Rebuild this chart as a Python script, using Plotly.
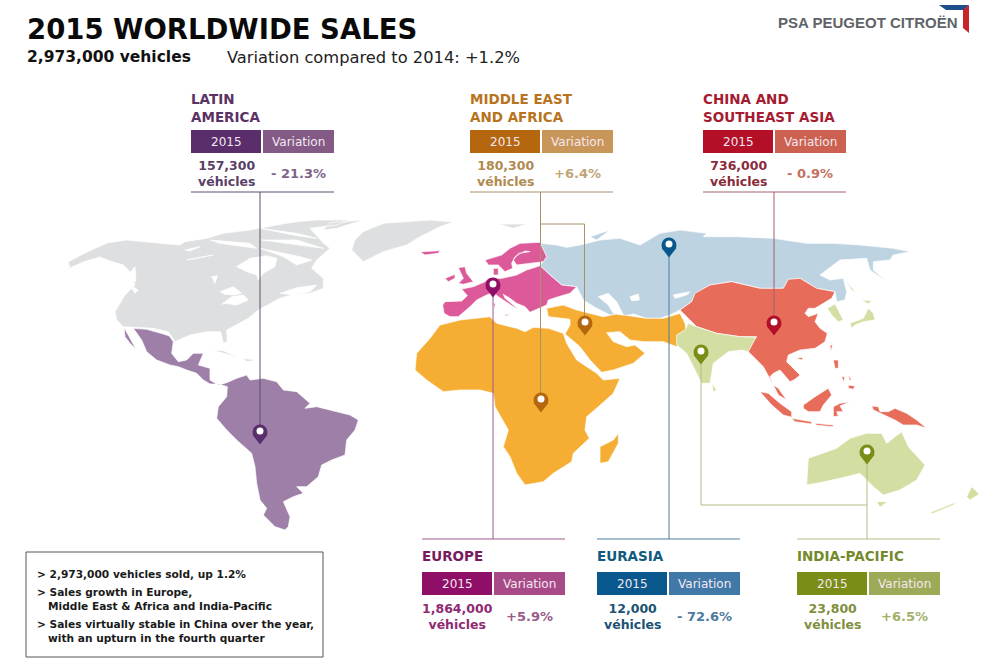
import plotly.graph_objects as go

# region table, top row then bottom row
regions = ["LATIN<br>AMERICA", "MIDDLE EAST<br>AND AFRICA", "CHINA AND<br>SOUTHEAST ASIA", "EUROPE", "EURASIA", "INDIA-PACIFIC"]
sales = ["157,300", "180,300", "736,000", "1,864,000", "12,000", "23,800"]
variation = ["- 21.3%", "+6.4%", "- 0.9%", "+5.9%", "- 72.6%", "+6.5%"]
table_left = [191, 470, 703, 422, 597, 797]
table_top = [130, 130, 130, 572, 572, 572]
rule_y = [192, 192, 192, 539, 539, 539]

dark = ["#5a2d6b", "#b4670e", "#b30f27", "#8f0e68", "#09588d", "#7a8d16"]
mid = ["#835a85", "#c9965a", "#cd6151", "#a94a88", "#4079a8", "#9dab58"]
title_col = ["#5b3264", "#b8731d", "#a51c30", "#7a1a5e", "#105a80", "#758a2c"]
sales_col = ["#5b3f68", "#b08a50", "#8a2a3a", "#8f2a72", "#1c5273", "#7f8f3e"]
var_col = ["#7d6488", "#c0a577", "#c4705f", "#9a5a8a", "#4d7a9c", "#a3b06c"]
line_col = ["#5e4f6a", "#a89268", "#a0626a", "#9c5a8c", "#4f7d9c", "#b4bc84"]
land_col = ["#9e7fa8", "#f5ae33", "#e86c5a", "#dc5a99", "#bdd3e2", "#d2dea2"]
grey_land = "#dddfe0"

# pins
pin_x = [260, 541, 585, 774, 493, 669, 701, 867]
pin_y = [432, 400, 323, 323, 285, 245, 352, 452]
pin_col = [dark[0], dark[1], dark[1], dark[2], dark[3], dark[4], dark[5], dark[5]]

# leader lines, one list per region
leaders = [
    ([[260, 192], [260, 432]],),
    ([[540.5, 192], [540.5, 400]], [[540.5, 224], [584.5, 224], [584.5, 323]]),
    ([[774, 192], [774, 323]],),
    ([[493, 285], [493, 539]],),
    ([[669, 245], [669, 539]],),
    ([[867, 452], [867, 539]], [[701, 352], [701, 505], [867, 505]]),
]

bullets = [
    "> 2,973,000 vehicles sold, up 1.2%",
    "> Sales growth in Europe,",
    "   Middle East & Africa and India-Pacific",
    "> Sales virtually stable in China over the year,",
    "   with an upturn in the fourth quarter",
]
bullet_y = [574, 592, 606, 624, 638]

A = (30, 210)
B = (400, 210)
C = (660, 220)
D = (430, 235)
E = (740, 280)
F = (110, 215)

grey_shapes = [
    (F, [(-144, 174), (-120, 156), (-126, 141), (-69, 111), (-9, 84), (50, 75), (120, 82), (210, 90), (225, 80),
         (290, 70), (340, 55), (420, 45), (500, 30), (560, 20), (620, 15), (720, 15), (680, 30), (600, 40), (640, 85),
         (660, 100), (620, 135), (605, 160), (640, 190), (640, 220), (600, 235), (545, 240), (510, 250), (470, 270),
         (445, 285), (415, 310), (375, 330), (350, 345), (352, 380), (340, 385), (332, 350), (290, 350), (240, 360),
         (195, 380), (175, 350), (130, 340), (40, 335), (20, 315), (15, 290), (45, 240), (75, 210), (65, 175),
         (40, 150), (0, 138), (-30, 126), (-81, 141), (-120, 159)]),
    (A, [(880, 60), (900, 38), (1000, 30), (920, 55)]),
    (A, [(965, 120), (975, 90), (1000, 65), (1060, 40), (1200, 30), (1270, 36), (1230, 50), (1170, 80), (1130, 105),
         (1060, 125), (1000, 155)]),
    (A, [(545, 420), (580, 422), (625, 442), (585, 432)]),
    (A, [(640, 445), (680, 450), (650, 455)]),
    (B, [(295, 42), (380, 42), (340, 55)]),
]

latin_shapes = [
    (A, [(282, 352), (300, 385), (318, 418), (300, 400), (285, 380)]),
    (A, [(310, 355), (350, 358), (400, 372), (418, 378), (430, 395), (425, 430), (445, 455), (470, 450), (490, 430),
         (520, 430), (505, 465), (540, 475), (540, 510), (565, 525), (590, 518), (620, 505), (650, 495), (660, 510),
         (700, 505), (740, 515), (760, 540), (800, 545), (840, 580), (825, 595), (860, 590), (900, 600), (960, 615),
         (985, 630), (975, 660), (950, 690), (945, 735), (905, 750), (875, 765), (865, 800), (830, 830), (800, 830),
         (820, 850), (790, 860), (760, 875), (780, 920), (775, 950), (765, 960), (735, 950), (700, 915), (710, 895),
         (690, 870), (680, 820), (675, 770), (665, 730), (620, 690), (590, 660), (560, 625), (565, 590), (590, 560),
         (592, 530), (565, 522), (540, 522), (520, 510), (500, 490), (470, 480), (445, 470), (420, 465), (380, 450),
         (350, 425), (335, 390)]),
]

mea_shapes = [
    (B, [(45, 480), (50, 430), (90, 385), (120, 345), (180, 330), (270, 320), (290, 340), (350, 355), (375, 365),
         (400, 352), (445, 355), (490, 370), (500, 400), (530, 450), (590, 490), (610, 510), (660, 505), (640, 550),
         (595, 590), (560, 620), (555, 660), (568, 685), (520, 730), (515, 755), (460, 790), (430, 815), (375, 825),
         (350, 790), (330, 740), (310, 710), (325, 660), (285, 590), (280, 550), (240, 540), (180, 540), (130, 545),
         (80, 510), (55, 490)]),
    (B, [(600, 710), (640, 690), (655, 670), (655, 700), (625, 755), (600, 760)]),
    (B, [(440, 295), (490, 285), (530, 300), (610, 320), (650, 312), (700, 320), (740, 325), (790, 325), (840, 310),
         (855, 340), (860, 370), (830, 410), (790, 395), (730, 395), (690, 390), (660, 365), (620, 368), (640, 395),
         (680, 410), (705, 405), (735, 430), (700, 460), (640, 480), (605, 487), (570, 450), (540, 410), (495, 372),
         (510, 345), (510, 328), (445, 320)]),
]

china_shapes = [
    (C, [(60, 270), (95, 245), (105, 220), (150, 195), (215, 185), (300, 205), (370, 205), (385, 178), (420, 175),
         (470, 205), (525, 215), (515, 235), (490, 250), (465, 265), (445, 265), (435, 280), (445, 290), (475, 280),
         (465, 305), (480, 325), (502, 340), (495, 365), (465, 385), (420, 390), (385, 405), (380, 425), (420, 465),
         (405, 478), (390, 485), (360, 450), (340, 460), (330, 470), (340, 495), (325, 465), (310, 440), (285, 415),
         (265, 395), (262, 385), (290, 350), (240, 350), (170, 340), (110, 320), (80, 290)]),
    (E, [(60, 335), (85, 340), (120, 370), (155, 395), (155, 412), (130, 405), (95, 375)]),
    (E, [(100, 315), (115, 325), (140, 360), (115, 345)]),
    (E, [(190, 375), (225, 350), (265, 325), (275, 345), (250, 375), (240, 395), (205, 395), (190, 385)]),
    (E, [(155, 415), (215, 425), (215, 432), (165, 425)]),
    (E, [(225, 430), (280, 435), (280, 440), (230, 436)]),
    (E, [(280, 380), (300, 370), (330, 365), (300, 378), (310, 395), (290, 395), (295, 408), (280, 410)]),
    (E, [(395, 378), (415, 380), (420, 395), (445, 395), (465, 385), (500, 400), (530, 420), (560, 445), (530, 435),
         (490, 435), (465, 420), (430, 405), (400, 390)]),
    (E, [(280, 240), (295, 240), (295, 265), (285, 265)]),
    (E, [(325, 315), (345, 318), (340, 328), (325, 325)]),
    (E, [(305, 290), (315, 290), (310, 305)]),
    (E, [(325, 285), (335, 300), (328, 300)]),
    (E, [(270, 195), (278, 195), (272, 215)]),
    (E, [(168, 235), (190, 232), (185, 240)]),
]

europe_shapes = [
    (D, [(38, 210), (45, 200), (95, 198), (112, 182), (95, 162), (130, 155), (165, 140), (175, 130), (215, 130),
         (260, 120), (290, 105), (330, 92), (360, 120), (395, 150), (440, 155), (420, 175), (385, 185), (355, 195),
         (350, 210), (325, 220), (300, 232), (285, 215), (260, 205), (240, 190), (220, 178), (225, 190), (250, 210),
         (265, 225), (235, 205), (205, 185), (190, 172), (170, 180), (140, 195), (120, 215), (85, 245), (60, 245),
         (42, 235)]),
    (D, [(165, 75), (215, 60), (240, 40), (270, 25), (330, 22), (350, 65), (340, 80), (300, 85), (260, 90), (250, 75),
         (265, 55), (300, 50), (285, 48), (255, 65), (245, 85), (248, 100), (225, 110), (205, 90), (175, 90)]),
    (D, [(190, 100), (205, 100), (205, 120), (190, 120)]),
    (D, [(85, 98), (105, 95), (110, 115), (130, 140), (100, 148), (85, 145), (100, 130), (92, 115)]),
    (D, [(45, 130), (75, 118), (75, 130), (55, 140)]),
    (D, [(190, 205), (196, 205), (193, 224)]),
    (D, [(225, 238), (242, 240), (225, 243)]),
    (B, [(60, 125), (120, 122), (115, 130), (75, 135)]),
]

eurasia_shapes = [
    (B, [(420, 100), (470, 105), (500, 112), (540, 105), (600, 90), (660, 85), (720, 105), (780, 70), (840, 60),
         (920, 70), (910, 80), (1010, 80), (1120, 85), (1220, 100), (1300, 100), (1380, 105), (1480, 115), (1530, 125),
         (1480, 135), (1470, 150), (1420, 155), (1420, 180), (1460, 215), (1430, 195), (1410, 180), (1400, 145),
         (1320, 150), (1260, 195), (1290, 210), (1330, 205), (1340, 245), (1335, 270), (1310, 275), (1305, 245),
         (1250, 235), (1200, 205), (1165, 210), (1150, 235), (1080, 235), (995, 215), (930, 225), (890, 250),
         (875, 275), (840, 300), (810, 315), (780, 325), (740, 325), (700, 312), (670, 318), (630, 315), (590, 295),
         (550, 270), (530, 230), (485, 225), (450, 195), (420, 168), (440, 140)]),
    (B, [(570, 80), (630, 60), (590, 90)]),
]

india_shapes = [
    (C, [(50, 345), (75, 330), (85, 310), (110, 320), (170, 340), (240, 350), (288, 352), (265, 395), (245, 390),
         (205, 395), (160, 430), (150, 490), (125, 490), (100, 440), (80, 400), (50, 375)]),
    (C, [(155, 490), (170, 510), (160, 515)]),
    (E, [(262, 85), (285, 72), (310, 120), (295, 125), (275, 105)]),
    (E, [(330, 130), (370, 115), (385, 85), (400, 100), (405, 120), (370, 125), (345, 135), (335, 145)]),
    (E, [(365, 60), (395, 62), (385, 72)]),
    (E, [(315, 0), (350, 40), (335, 30)]),
    (C, [(440, 795), (445, 715), (530, 685), (570, 655), (620, 640), (665, 640), (680, 670), (725, 635), (745, 680),
         (795, 735), (770, 780), (720, 810), (670, 825), (640, 800), (600, 760), (540, 775), (470, 790)]),
    (C, [(650, 845), (682, 845), (660, 862)]),
    (C, [(805, 880), (890, 845), (880, 855), (820, 880)]),
    (C, [(920, 830), (935, 800), (958, 822), (930, 840)]),
]

# seas and lakes, white on top of the land
water_shapes = [
    (B, [(595, 260), (625, 250), (650, 275), (670, 315), (640, 310), (625, 285)]),
    (B, [(690, 260), (715, 252), (718, 270), (695, 272)]),
    (C, [(40, 225), (90, 215), (80, 225), (45, 235)]),
    (F, [(380, 155), (420, 130), (470, 122), (500, 130), (495, 155), (460, 175), (445, 195), (440, 180), (410, 170)]),
    (F, [(330, 230), (370, 215), (395, 235), (370, 240), (345, 238)]),
    (F, [(335, 268), (365, 245), (400, 240), (415, 255), (380, 270), (345, 265)]),
    (F, [(305, 185), (322, 182), (315, 205), (310, 195)]),
    (F, [(510, 235), (560, 218), (620, 210), (600, 230), (550, 240)]),
    (F, [(50, 185), (75, 155), (78, 200), (60, 190)]),
    (F, [(60, 210), (85, 225), (75, 235)]),
    (F, [(225, 105), (270, 95), (240, 108)]),
    (F, [(230, 135), (310, 120), (260, 130)]),
    (F, [(300, 75), (420, 85), (440, 100), (330, 85)]),
    (F, [(450, 40), (560, 55), (620, 70), (560, 62)]),
    (F, [(455, 75), (560, 75), (640, 100), (560, 90)]),
    (F, [(450, 100), (520, 115), (570, 125), (605, 135), (560, 150), (520, 125)]),
]

logo_blue = [(939, 5), (969, 5), (964, 10), (946, 10)]
logo_red = [(963, 10), (969, 5), (969, 33), (963, 28)]

FONT = "DejaVu Sans"


def polys_xy(shapes):
    xs, ys = [], []
    for (ox, oy), pts in shapes:
        xs += [ox + p[0] / 3 for p in pts] + [ox + pts[0][0] / 3, None]
        ys += [oy + p[1] / 3 for p in pts] + [oy + pts[0][1] / 3, None]
    return xs, ys


def add_land(fig, shapes, color, edge="white", width=0.7):
    xs, ys = polys_xy(shapes)
    fig.add_trace(go.Scatter(x=xs, y=ys, mode="lines", fill="toself", fillcolor=color,
                             line=dict(color=edge, width=width), hoverinfo="skip"))


def add_text(fig, x, y, text, size, color, anchor="left", bold=False, family=FONT):
    # annotations keep a small pad, pull left-anchored text back onto x
    if anchor == "left":
        x = x - 2
    fig.add_annotation(x=x, y=y, text=f"<b>{text}</b>" if bold else text, showarrow=False, xanchor=anchor,
                       yanchor="middle", align=anchor, font=dict(size=size, color=color, family=family))


fig = go.Figure()

add_land(fig, grey_shapes, grey_land)
add_land(fig, eurasia_shapes, land_col[4])
add_land(fig, latin_shapes, land_col[0])
add_land(fig, mea_shapes, land_col[1])
add_land(fig, europe_shapes, land_col[3])
add_land(fig, china_shapes, land_col[2])
add_land(fig, india_shapes, land_col[5])
add_land(fig, water_shapes, "white")

# 1. leader lines and rules under the tables
for i, left in enumerate(table_left):
    fig.add_trace(go.Scatter(x=[left, left + 143], y=[rule_y[i], rule_y[i]], mode="lines",
                             line=dict(color=line_col[i], width=1), hoverinfo="skip"))
    for path in leaders[i]:
        fig.add_trace(go.Scatter(x=[p[0] for p in path], y=[p[1] for p in path], mode="lines",
                                 line=dict(color=line_col[i], width=1), hoverinfo="skip"))

# 2. pins: round head, point below, white dot
fig.add_trace(go.Scatter(x=pin_x, y=[v + 6 for v in pin_y], mode="markers", hoverinfo="skip",
                         marker=dict(symbol="triangle-down", size=13, color=pin_col, line=dict(width=0))))
fig.add_trace(go.Scatter(x=pin_x, y=pin_y, mode="markers", hoverinfo="skip",
                         marker=dict(symbol="circle", size=15, color=pin_col, line=dict(width=0))))
fig.add_trace(go.Scatter(x=pin_x, y=[v - 1 for v in pin_y], mode="markers", hoverinfo="skip",
                         marker=dict(symbol="circle", size=7, color="white", line=dict(width=0))))

# 3. tables
for i, left in enumerate(table_left):
    top = table_top[i]
    shift = 1 if i >= 3 else 0
    fig.add_shape(type="rect", x0=left, x1=left + 70, y0=top, y1=top + 23, fillcolor=dark[i], line_width=0)
    fig.add_shape(type="rect", x0=left + 72, x1=left + 143, y0=top, y1=top + 23, fillcolor=mid[i], line_width=0)
    add_text(fig, left + 35, top + 11.5, "2015", 12, "#f4e8f0", "center")
    add_text(fig, left + 107, top + 11.5, "Variation", 12, "#f4e8f0", "center")
    add_text(fig, left + 35, top + 43 + shift, f"<b>{sales[i]}</b><br><b>véhicles</b>", 12.5, sales_col[i], "center")
    add_text(fig, left + 107, top + 43 + shift, f"<b>{variation[i]}</b>", 13, var_col[i], "center")
    head_y = top - 22 if i < 3 else top - 16
    add_text(fig, left, head_y, regions[i], 13.5, title_col[i], "left", bold=True)

# 4. header
add_text(fig, 27, 29, "2015 WORLDWIDE SALES", 27.5, "#0a0a0a", bold=True)
add_text(fig, 27, 57, "2,973,000 vehicles", 15.5, "#111111", bold=True)
add_text(fig, 227, 57, "Variation compared to 2014: +1.2%", 16.3, "#222222")
add_text(fig, 778, 22, "PSA PEUGEOT CITROËN", 15, "#5f6468", bold=True, family="Liberation Sans")
for pts, col in ((logo_blue, "#1f4e8c"), (logo_red, "#c8242b")):
    fig.add_trace(go.Scatter(x=[p[0] for p in pts] + [pts[0][0]], y=[p[1] for p in pts] + [pts[0][1]], mode="lines",
                             fill="toself", fillcolor=col, line=dict(color=col, width=0), hoverinfo="skip"))

# 5. box with the bullet points
fig.add_shape(type="rect", x0=26, x1=323, y0=552, y1=657, line=dict(color="#555555", width=1))
for txt, y in zip(bullets, bullet_y):
    add_text(fig, 37, y, txt.replace("   ", "&nbsp;&nbsp;&nbsp;"), 10.6, "#1a1a1a", bold=True)

fig.update_layout(
    width=1000,
    height=665,
    margin=dict(l=0, r=0, t=0, b=0),
    paper_bgcolor="white",
    plot_bgcolor="white",
    showlegend=False,
    xaxis=dict(range=[0, 1000], visible=False, fixedrange=True),
    yaxis=dict(range=[665, 0], visible=False, fixedrange=True),
)

fig.write_html("out.html", config=dict(displayModeBar=False), post_script="document.body.style.margin='0';")
